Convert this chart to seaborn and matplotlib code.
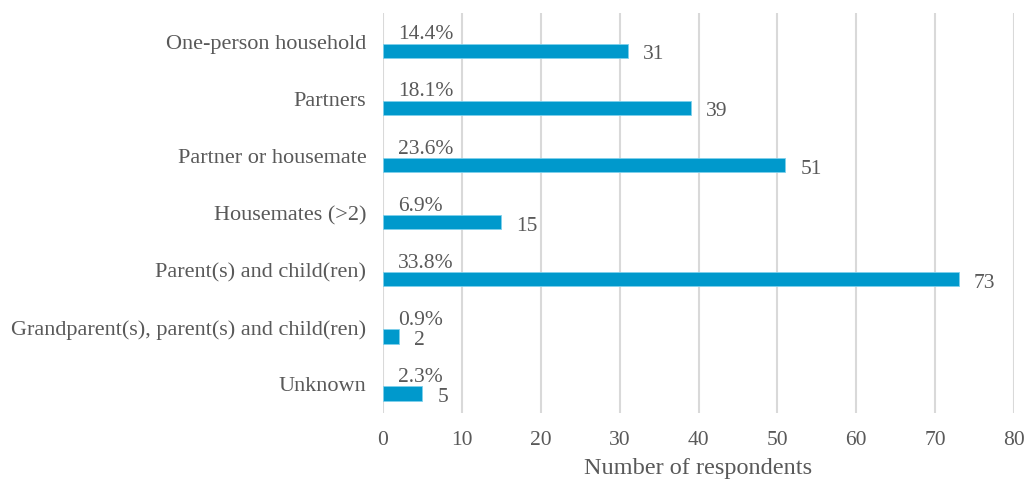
import matplotlib
matplotlib.use("Agg")
import matplotlib.pyplot as plt
import seaborn as sns
import pandas as pd

categories = [
    "One-person household",
    "Partners",
    "Partner or housemate",
    "Housemates (>2)",
    "Parent(s) and child(ren)",
    "Grandparent(s), parent(s) and child(ren)",
    "Unknown",
]
counts = [31, 39, 51, 15, 73, 2, 5]
shares = ["14.4%", "18.1%", "23.6%", "6.9%", "33.8%", "0.9%", "2.3%"]
x_ticks = [0, 10, 20, 30, 40, 50, 60, 70, 80]

sns.set_theme(style="white")
plt.rcParams["font.family"] = ["Liberation Serif", "DejaVu Serif"]

text_color = "#595959"
bar_color = "#0099CC"
label_size = 15.5

df = pd.DataFrame({"category": categories, "count": counts})

fig = plt.figure(figsize=(10.26, 4.83), dpi=100)
ax = fig.add_axes([383 / 1026, 70 / 483, (1014 - 383) / 1026, (413 - 13) / 483])

sns.barplot(data=df, y="category", x="count", orient="h", color=bar_color,
            width=0.25, saturation=1, ax=ax, edgecolor="#7fd0ec", linewidth=0.6)

# Counts sit just below each category centre; the share label sits above it.
offset = 0.16
for patch in ax.patches:
    patch.set_y(patch.get_y() + offset)

for i, (c, s) in enumerate(zip(counts, shares)):
    ax.text(c + 1.9, i + offset + 0.07, str(c), va="center", ha="left",
            fontsize=label_size, color=text_color)
    ax.text(1.9, i - offset + 0.04, s, va="center", ha="left",
            fontsize=label_size, color=text_color)

ax.set_xlim(0, 80)
ax.set_ylim(6.5, -0.5)
ax.set_xticks(x_ticks)
ax.set_xticklabels([str(t) for t in x_ticks])
ax.xaxis.grid(True, color="#D9D9D9", linewidth=1.5)
ax.yaxis.grid(False)
ax.set_axisbelow(True)
for sp in ax.spines.values():
    sp.set_visible(False)
ax.tick_params(axis="both", length=0, labelsize=label_size, colors=text_color)
ax.tick_params(axis="y", pad=12, labelsize=16)
ax.tick_params(axis="x", pad=13)
ax.set_ylabel("")
ax.set_xlabel("Number of respondents", fontsize=17.5, color=text_color, labelpad=6)

fig.savefig("out.png", dpi=100, facecolor="white")
